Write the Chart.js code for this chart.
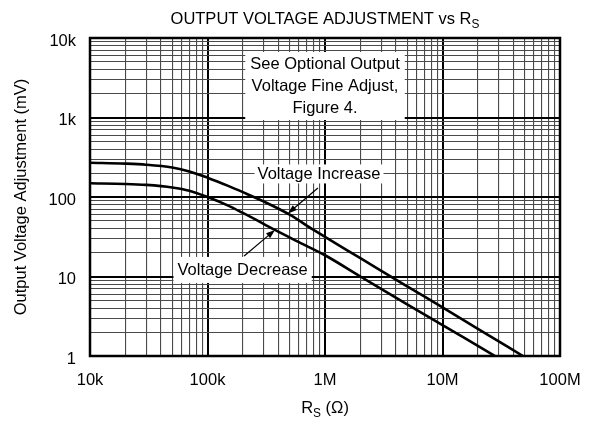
<!DOCTYPE html>
<html>
<head>
<meta charset="utf-8">
<style>
  html, body { margin: 0; padding: 0; background: #fff; }
</style>
<script src="https://cdn.jsdelivr.net/npm/chart.js@4.4.3/dist/chart.umd.min.js"></script>
</head>
<body>
<canvas id="rs-chart" width="597" height="426"></canvas>
<script>
const FONT = '"Liberation Sans", Arial, Helvetica, sans-serif';
const TEXT_SIZE = 16.5;

const xDecades = [1e4, 1e5, 1e6, 1e7, 1e8];
const xTickLabels = ["10k", "100k", "1M", "10M", "100M"];
const yDecades = [1, 10, 100, 1000, 10000];
const yTickLabels = ["1", "10", "100", "1k", "10k"];

// R_S in ohms, adjustment in mV
const increaseRs = [1e4, 2e4, 3e4, 5e4, 7e4, 1e5, 1.5e5, 2e5, 3e5, 5e5, 8e5, 1e6, 2e6, 5e6, 1e7, 2e7, 4.84e7];
const increaseMv = [270, 263, 255, 235, 210, 175, 138, 115, 88, 60, 38.5, 31.5, 17, 7.5, 4.1, 2.2, 1];
const decreaseRs = [1e4, 2e4, 3e4, 5e4, 7e4, 1e5, 1.5e5, 2e5, 3e5, 3.75e5, 6e5, 1e6, 2e6, 5e6, 1e7, 2e7, 2.8e7];
const decreaseMv = [149, 146, 142, 132, 120, 100, 78, 63, 46, 38.5, 27, 18.5, 10, 4.45, 2.45, 1.34, 1];

// callouts, placed in data units
const noteLines = ["See Optional Output", "Voltage Fine Adjust,", "Figure 4."];
const notePos = { x: 1e6, y: 2490 };
const increaseText = "Voltage Increase";
const increasePos = { x: 8.9e5, y: 195 };
const increaseArrow = { from: { x: 8.7e5, y: 130 }, to: { x: 4.84e5, y: 62 } };
const decreaseText = "Voltage Decrease";
const decreasePos = { x: 1.99e5, y: 12.1 };
const decreaseArrow = { from: { x: 2.05e5, y: 18.1 }, to: { x: 3.75e5, y: 38.5 } };

function toPoints(xs, ys) {
  return xs.map((x, i) => ({ x, y: ys[i] }));
}

function logTicks(min, max) {
  const ticks = [];
  for (let e = Math.log10(min); e < Math.log10(max); e++) {
    for (let s = 1; s < 10; s++) {
      ticks.push({ value: s * Math.pow(10, e) });
    }
  }
  ticks.push({ value: max });
  return ticks;
}

function isDecade(value) {
  const l = Math.log10(value);
  return Math.abs(l - Math.round(l)) < 1e-9;
}

function decadeLabel(value, decades, labels) {
  const idx = decades.findIndex((d) => Math.abs(d - value) / d < 1e-9);
  return idx >= 0 ? labels[idx] : "";
}

function gridColor(ctx) {
  return ctx.tick && isDecade(ctx.tick.value) ? "#000" : "#4a4a4a";
}

function gridWidth(ctx) {
  return ctx.tick && isDecade(ctx.tick.value) ? 2 : 1.1;
}

// text with subscript runs: [[text, isSub], ...]
function drawRichText(ctx, runs, cx, cy, size) {
  const subSize = size * 0.72;
  let total = 0;
  runs.forEach(([t, sub]) => {
    ctx.font = `${sub ? subSize : size}px ${FONT}`;
    total += ctx.measureText(t).width;
  });
  let x = cx - total / 2;
  ctx.textAlign = "left";
  ctx.textBaseline = "middle";
  runs.forEach(([t, sub]) => {
    ctx.font = `${sub ? subSize : size}px ${FONT}`;
    ctx.fillText(t, x, sub ? cy + size * 0.32 : cy);
    x += ctx.measureText(t).width;
  });
}

function drawArrow(ctx, x1, y1, x2, y2) {
  const ang = Math.atan2(y2 - y1, x2 - x1);
  const len = 9;
  const half = 3.2;
  ctx.lineWidth = 1.2;
  ctx.beginPath();
  ctx.moveTo(x1, y1);
  ctx.lineTo(x2 - Math.cos(ang) * len * 0.8, y2 - Math.sin(ang) * len * 0.8);
  ctx.stroke();
  ctx.beginPath();
  ctx.moveTo(x2, y2);
  ctx.lineTo(x2 - Math.cos(ang) * len - Math.sin(ang) * half, y2 - Math.sin(ang) * len + Math.cos(ang) * half);
  ctx.lineTo(x2 - Math.cos(ang) * len + Math.sin(ang) * half, y2 - Math.sin(ang) * len - Math.cos(ang) * half);
  ctx.closePath();
  ctx.fill();
}

function labelBox(ctx, text, cx, cy, padX, height) {
  ctx.font = `${TEXT_SIZE}px ${FONT}`;
  const w = ctx.measureText(text).width + padX * 2;
  ctx.fillStyle = "#fff";
  ctx.fillRect(cx - w / 2, cy - height / 2, w, height);
  ctx.fillStyle = "#000";
  ctx.textAlign = "center";
  ctx.textBaseline = "middle";
  ctx.fillText(text, cx, cy + 1);
}

const overlay = {
  id: "overlay",
  afterDraw(chart) {
    const { ctx, chartArea: a, scales } = chart;
    const px = (p) => [scales.x.getPixelForValue(p.x), scales.y.getPixelForValue(p.y)];
    ctx.save();

    ctx.strokeStyle = "#000";
    ctx.lineWidth = 2.5;
    ctx.strokeRect(a.left, a.top, a.right - a.left, a.bottom - a.top);

    // big note
    ctx.font = `${TEXT_SIZE}px ${FONT}`;
    const [nx, ny] = px(notePos);
    const lineH = 22;
    const noteW = Math.max(...noteLines.map((l) => ctx.measureText(l).width)) + 10;
    const noteH = lineH * noteLines.length + 2;
    ctx.fillStyle = "#fff";
    ctx.fillRect(nx - noteW / 2, ny - noteH / 2, noteW, noteH);
    ctx.fillStyle = "#000";
    ctx.textAlign = "center";
    ctx.textBaseline = "middle";
    noteLines.forEach((line, i) => {
      ctx.fillText(line, nx, ny + (i - 1) * lineH);
    });

    // curve callouts
    const [ix, iy] = px(increasePos);
    labelBox(ctx, increaseText, ix, iy, 3, 19);
    const [dx, dy] = px(decreasePos);
    labelBox(ctx, decreaseText, dx, dy, 4, 26);

    ctx.strokeStyle = "#000";
    ctx.fillStyle = "#000";
    let [a1, b1] = px(increaseArrow.from);
    let [a2, b2] = px(increaseArrow.to);
    drawArrow(ctx, a1, b1, a2, b2);
    [a1, b1] = px(decreaseArrow.from);
    [a2, b2] = px(decreaseArrow.to);
    drawArrow(ctx, a1, b1, a2, b2);

    // titles
    const midX = (a.left + a.right) / 2;
    drawRichText(ctx, [["OUTPUT VOLTAGE ADJUSTMENT vs R", false], ["S", true]], midX, 19, TEXT_SIZE);
    drawRichText(ctx, [["R", false], ["S", true], [" (\u03A9)", false]], midX, 408, TEXT_SIZE);

    ctx.save();
    ctx.translate(21, (a.top + a.bottom) / 2);
    ctx.rotate(-Math.PI / 2);
    drawRichText(ctx, [["Output Voltage Adjustment (mV)", false]], 0, 0, TEXT_SIZE);
    ctx.restore();

    ctx.restore();
  },
};

new Chart(document.getElementById("rs-chart"), {
  type: "line",
  data: {
    datasets: [
      {
        label: "Voltage Increase",
        data: toPoints(increaseRs, increaseMv),
        borderColor: "#000",
        borderWidth: 2.6,
        pointRadius: 0,
        cubicInterpolationMode: "monotone",
        fill: false,
      },
      {
        label: "Voltage Decrease",
        data: toPoints(decreaseRs, decreaseMv),
        borderColor: "#000",
        borderWidth: 2.6,
        pointRadius: 0,
        cubicInterpolationMode: "monotone",
        fill: false,
      },
    ],
  },
  options: {
    responsive: false,
    animation: false,
    layout: { padding: { top: 38, right: 37, left: 0, bottom: 0 } },
    plugins: {
      legend: { display: false },
      tooltip: { enabled: false },
    },
    scales: {
      x: {
        type: "logarithmic",
        min: xDecades[0],
        max: xDecades[xDecades.length - 1],
        afterBuildTicks: (axis) => {
          axis.ticks = logTicks(axis.min, axis.max);
        },
        afterFit: (axis) => {
          axis.height = 70;
        },
        ticks: {
          autoSkip: false,
          maxRotation: 0,
          padding: 15,
          color: "#000",
          font: { family: FONT, size: TEXT_SIZE },
          callback: (value) => decadeLabel(value, xDecades, xTickLabels),
        },
        grid: { drawTicks: false, color: gridColor, lineWidth: gridWidth },
        border: { display: false },
      },
      y: {
        type: "logarithmic",
        min: yDecades[0],
        max: yDecades[yDecades.length - 1],
        afterBuildTicks: (axis) => {
          axis.ticks = logTicks(axis.min, axis.max);
        },
        afterFit: (axis) => {
          axis.width = 90;
        },
        ticks: {
          autoSkip: false,
          padding: 14,
          labelOffset: 3,
          color: "#000",
          font: { family: FONT, size: TEXT_SIZE },
          callback: (value) => decadeLabel(value, yDecades, yTickLabels),
        },
        grid: { drawTicks: false, color: gridColor, lineWidth: gridWidth },
        border: { display: false },
      },
    },
  },
  plugins: [overlay],
});
</script>
</body>
</html>
